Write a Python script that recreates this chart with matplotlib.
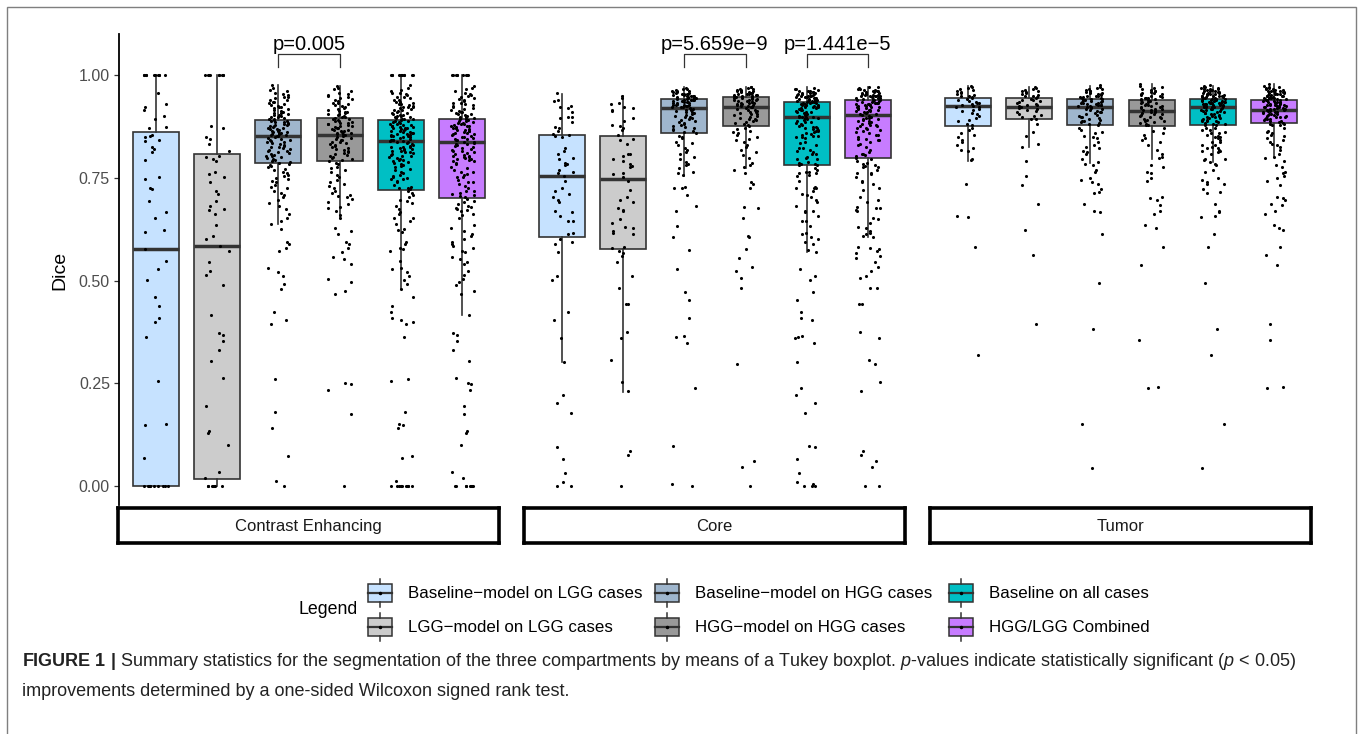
import numpy as np
import matplotlib
matplotlib.use("Agg")
import matplotlib.pyplot as plt
from matplotlib.patches import Rectangle
from matplotlib.lines import Line2D

# ---------------- data ----------------
panels = ["Contrast Enhancing", "Core", "Tumor"]
series = ["Baseline\u2212model on LGG cases", "LGG\u2212model on LGG cases",
          "Baseline\u2212model on HGG cases", "HGG\u2212model on HGG cases",
          "Baseline on all cases", "HGG/LGG Combined"]
colors = ['#C6E2FF', '#CCCCCC', '#9FB6CD', '#999999', '#00BFC4', '#C77CFF']

# box statistics (per panel, per series)
ce_q1 = [0.000, 0.016, 0.787, 0.790, 0.720, 0.701]
ce_med = [0.577, 0.583, 0.851, 0.855, 0.840, 0.837]
ce_q3 = [0.861, 0.809, 0.891, 0.896, 0.891, 0.892]
ce_lo = [0.000, 0.000, 0.638, 0.653, 0.480, 0.415]
ce_hi = [1.000, 1.000, 0.976, 0.974, 1.000, 1.000]

core_q1 = [0.606, 0.576, 0.858, 0.877, 0.782, 0.797]
core_med = [0.754, 0.746, 0.920, 0.921, 0.898, 0.902]
core_q3 = [0.853, 0.851, 0.942, 0.946, 0.935, 0.938]
core_lo = [0.301, 0.229, 0.755, 0.774, 0.569, 0.607]
core_hi = [0.955, 0.948, 0.970, 0.972, 0.970, 0.972]

tumor_q1 = [0.877, 0.892, 0.879, 0.877, 0.878, 0.883]
tumor_med = [0.924, 0.921, 0.922, 0.912, 0.923, 0.916]
tumor_q3 = [0.944, 0.945, 0.942, 0.940, 0.942, 0.940]
tumor_lo = [0.791, 0.826, 0.787, 0.796, 0.789, 0.802]
tumor_hi = [0.974, 0.971, 0.974, 0.977, 0.974, 0.977]

# individual Dice scores (read approximately from the jittered points)
ce_base_lgg = [1.0, 1.0, 1.0, 1.0, 1.0, 1.0, 1.0, 1.0, 1.0, 1.0,
               0.957, 0.929, 0.922, 0.915, 0.900, 0.893, 0.873, 0.870, 0.854, 0.852,
               0.849, 0.841, 0.839, 0.826, 0.820, 0.813, 0.793, 0.753, 0.746, 0.724,
               0.722, 0.693, 0.666, 0.651, 0.624, 0.619, 0.577, 0.547, 0.527, 0.501,
               0.461, 0.439, 0.408, 0.400, 0.362, 0.255, 0.152, 0.148, 0.068,
               0.0, 0.0, 0.0, 0.0, 0.0, 0.0, 0.0, 0.0, 0.0, 0.0]
ce_lggm_lgg = [1.0, 1.0, 1.0, 1.0, 1.0, 1.0, 1.0, 1.0, 1.0,
               0.875, 0.870, 0.848, 0.845, 0.831, 0.815, 0.804, 0.800, 0.795, 0.790,
               0.763, 0.758, 0.752, 0.739, 0.718, 0.711, 0.693, 0.681, 0.673, 0.671,
               0.662, 0.635, 0.609, 0.601, 0.583, 0.571, 0.546, 0.523, 0.513, 0.489,
               0.416, 0.373, 0.367, 0.353, 0.331, 0.305, 0.264, 0.195, 0.135, 0.129,
               0.101, 0.033, 0.019, 0.0, 0.0, 0.0, 0.0, 0.0, 0.0, 0.0]
ce_base_hgg = [0.976, 0.969, 0.963, 0.961, 0.957, 0.953, 0.951, 0.947, 0.946, 0.943,
               0.940, 0.939, 0.935, 0.934, 0.931, 0.929, 0.928, 0.925, 0.922, 0.921,
               0.919, 0.917, 0.914, 0.913, 0.911, 0.908, 0.907, 0.905, 0.903, 0.902,
               0.900, 0.899, 0.897, 0.896, 0.894, 0.893, 0.890, 0.889, 0.887, 0.886,
               0.885, 0.883, 0.882, 0.880, 0.879, 0.878, 0.876, 0.875, 0.873, 0.872,
               0.871, 0.869, 0.868, 0.866, 0.865, 0.864, 0.862, 0.861, 0.860, 0.858,
               0.857, 0.856, 0.855, 0.853, 0.852, 0.851, 0.849, 0.847, 0.845, 0.843,
               0.842, 0.840, 0.838, 0.836, 0.834, 0.833, 0.830, 0.828, 0.826, 0.825,
               0.822, 0.820, 0.818, 0.816, 0.815, 0.812, 0.810, 0.808, 0.806, 0.804,
               0.802, 0.800, 0.798, 0.795, 0.793, 0.791, 0.789, 0.787, 0.784, 0.781,
               0.779, 0.776, 0.772, 0.768, 0.765, 0.761, 0.757, 0.754, 0.750, 0.746,
               0.742, 0.739, 0.733, 0.728, 0.724, 0.718, 0.713, 0.708, 0.704, 0.696,
               0.688, 0.681, 0.673, 0.662, 0.651, 0.645, 0.638, 0.625, 0.594, 0.590,
               0.580, 0.573, 0.530, 0.521, 0.512, 0.491, 0.479, 0.423, 0.403, 0.393,
               0.260, 0.181, 0.140, 0.073, 0.011, 0.000]
ce_hggm_hgg = [0.974, 0.968, 0.965, 0.961, 0.957, 0.955, 0.951, 0.949, 0.946, 0.943,
               0.941, 0.938, 0.936, 0.933, 0.931, 0.929, 0.926, 0.924, 0.921, 0.920,
               0.917, 0.915, 0.913, 0.911, 0.909, 0.907, 0.905, 0.904, 0.902, 0.900,
               0.899, 0.897, 0.895, 0.893, 0.892, 0.890, 0.889, 0.887, 0.886, 0.884,
               0.883, 0.881, 0.880, 0.878, 0.877, 0.875, 0.874, 0.872, 0.870, 0.869,
               0.867, 0.866, 0.864, 0.863, 0.861, 0.860, 0.858, 0.857, 0.856, 0.853,
               0.851, 0.849, 0.847, 0.845, 0.843, 0.841, 0.838, 0.836, 0.834, 0.832,
               0.829, 0.827, 0.825, 0.822, 0.820, 0.818, 0.815, 0.813, 0.810, 0.808,
               0.805, 0.803, 0.800, 0.798, 0.795, 0.793, 0.791, 0.787, 0.783, 0.777,
               0.773, 0.769, 0.763, 0.757, 0.753, 0.745, 0.739, 0.734, 0.731, 0.724,
               0.718, 0.712, 0.708, 0.706, 0.704, 0.698, 0.692, 0.685, 0.680, 0.676,
               0.668, 0.660, 0.653, 0.627, 0.620, 0.612, 0.593, 0.589, 0.578, 0.569,
               0.556, 0.552, 0.541, 0.503, 0.497, 0.474, 0.468, 0.250, 0.247, 0.234,
               0.174, 0.000]

core_base_lgg = [0.956, 0.940, 0.937, 0.925, 0.923, 0.920, 0.911, 0.899, 0.899, 0.896,
                 0.886, 0.874, 0.872, 0.865, 0.856, 0.854, 0.852, 0.848, 0.823, 0.815,
                 0.807, 0.799, 0.796, 0.785, 0.783, 0.781, 0.769, 0.763, 0.761, 0.754,
                 0.742, 0.726, 0.719, 0.711, 0.704, 0.696, 0.692, 0.669, 0.666, 0.657,
                 0.645, 0.645, 0.615, 0.612, 0.601, 0.594, 0.590, 0.569, 0.512, 0.501,
                 0.423, 0.404, 0.361, 0.302, 0.221, 0.201, 0.177, 0.096, 0.065, 0.031,
                 0.009, 0.001, 0.000]
core_lggm_lgg = [0.950, 0.943, 0.931, 0.929, 0.923, 0.920, 0.915, 0.912, 0.895, 0.888,
                 0.878, 0.876, 0.870, 0.866, 0.854, 0.844, 0.842, 0.831, 0.809, 0.807,
                 0.804, 0.796, 0.791, 0.783, 0.779, 0.775, 0.761, 0.758, 0.753, 0.742,
                 0.720, 0.704, 0.695, 0.692, 0.677, 0.672, 0.669, 0.650, 0.640, 0.630,
                 0.627, 0.621, 0.616, 0.612, 0.582, 0.578, 0.572, 0.566, 0.560, 0.544,
                 0.512, 0.483, 0.444, 0.442, 0.374, 0.359, 0.307, 0.254, 0.230, 0.084,
                 0.075, 0.000]
core_base_hgg = [0.968, 0.966, 0.965, 0.963, 0.962, 0.961, 0.960, 0.959, 0.958, 0.957,
                 0.956, 0.955, 0.954, 0.953, 0.953, 0.952, 0.951, 0.950, 0.949, 0.949,
                 0.948, 0.947, 0.946, 0.946, 0.945, 0.944, 0.944, 0.942, 0.941, 0.940,
                 0.940, 0.939, 0.938, 0.937, 0.936, 0.935, 0.935, 0.934, 0.933, 0.932,
                 0.931, 0.930, 0.929, 0.928, 0.928, 0.927, 0.926, 0.925, 0.924, 0.923,
                 0.922, 0.921, 0.920, 0.918, 0.916, 0.915, 0.913, 0.911, 0.909, 0.907,
                 0.905, 0.903, 0.901, 0.899, 0.897, 0.895, 0.893, 0.891, 0.889, 0.886,
                 0.884, 0.882, 0.879, 0.877, 0.874, 0.872, 0.869, 0.866, 0.863, 0.861,
                 0.859, 0.852, 0.850, 0.846, 0.838, 0.834, 0.830, 0.822, 0.818, 0.812,
                 0.807, 0.801, 0.796, 0.789, 0.783, 0.781, 0.773, 0.765, 0.761, 0.757,
                 0.727, 0.726, 0.724, 0.708, 0.682, 0.669, 0.632, 0.607, 0.575, 0.528,
                 0.473, 0.453, 0.410, 0.366, 0.362, 0.349, 0.238, 0.097, 0.005, 0.000]
core_hggm_hgg = [0.972, 0.970, 0.968, 0.967, 0.966, 0.964, 0.963, 0.962, 0.961, 0.960,
                 0.959, 0.958, 0.957, 0.956, 0.955, 0.954, 0.953, 0.952, 0.952, 0.951,
                 0.950, 0.949, 0.948, 0.948, 0.947, 0.945, 0.944, 0.943, 0.942, 0.941,
                 0.940, 0.939, 0.938, 0.937, 0.936, 0.935, 0.934, 0.933, 0.932, 0.931,
                 0.930, 0.929, 0.928, 0.927, 0.926, 0.925, 0.924, 0.923, 0.921, 0.919,
                 0.918, 0.916, 0.914, 0.913, 0.911, 0.909, 0.907, 0.906, 0.904, 0.902,
                 0.900, 0.898, 0.896, 0.894, 0.892, 0.890, 0.888, 0.886, 0.883, 0.881,
                 0.879, 0.877, 0.872, 0.869, 0.865, 0.862, 0.858, 0.854, 0.848, 0.844,
                 0.842, 0.836, 0.830, 0.826, 0.818, 0.812, 0.805, 0.797, 0.785, 0.781,
                 0.775, 0.768, 0.761, 0.739, 0.735, 0.726, 0.680, 0.676, 0.651, 0.609,
                 0.607, 0.576, 0.554, 0.534, 0.523, 0.505, 0.481, 0.298, 0.062, 0.046,
                 0.000]

tumor_base_lgg = [0.974, 0.971, 0.968, 0.966, 0.963, 0.961, 0.958, 0.956, 0.954, 0.952,
                  0.950, 0.948, 0.946, 0.944, 0.941, 0.939, 0.937, 0.935, 0.933, 0.931,
                  0.929, 0.927, 0.925, 0.923, 0.921, 0.918, 0.915, 0.912, 0.908, 0.904,
                  0.900, 0.896, 0.891, 0.887, 0.882, 0.878, 0.870, 0.866, 0.858, 0.854,
                  0.850, 0.842, 0.836, 0.830, 0.822, 0.818, 0.815, 0.795, 0.793, 0.735,
                  0.658, 0.654, 0.582, 0.319]
tumor_lggm_lgg = [0.971, 0.969, 0.967, 0.964, 0.962, 0.960, 0.958, 0.956, 0.954, 0.952,
                  0.950, 0.948, 0.946, 0.944, 0.942, 0.940, 0.938, 0.936, 0.934, 0.932,
                  0.930, 0.928, 0.926, 0.924, 0.922, 0.920, 0.918, 0.915, 0.912, 0.909,
                  0.906, 0.903, 0.900, 0.897, 0.894, 0.892, 0.882, 0.862, 0.852, 0.832,
                  0.826, 0.791, 0.755, 0.732, 0.687, 0.622, 0.562, 0.393]
tumor_base_hgg = [0.976, 0.972, 0.969, 0.967, 0.965, 0.963, 0.962, 0.960, 0.958, 0.957,
                  0.956, 0.954, 0.953, 0.952, 0.950, 0.949, 0.948, 0.947, 0.946, 0.945,
                  0.944, 0.942, 0.941, 0.940, 0.939, 0.938, 0.937, 0.936, 0.935, 0.934,
                  0.933, 0.932, 0.931, 0.930, 0.929, 0.928, 0.927, 0.926, 0.925, 0.924,
                  0.923, 0.922, 0.920, 0.918, 0.917, 0.915, 0.913, 0.911, 0.909, 0.907,
                  0.905, 0.903, 0.901, 0.899, 0.897, 0.895, 0.893, 0.891, 0.889, 0.887,
                  0.885, 0.883, 0.881, 0.879, 0.870, 0.866, 0.862, 0.858, 0.852, 0.850,
                  0.846, 0.838, 0.830, 0.826, 0.822, 0.815, 0.812, 0.807, 0.795, 0.789,
                  0.783, 0.780, 0.770, 0.765, 0.749, 0.745, 0.740, 0.736, 0.723, 0.716,
                  0.712, 0.685, 0.669, 0.666, 0.612, 0.495, 0.381, 0.152, 0.045]
tumor_hggm_hgg = [0.977, 0.973, 0.970, 0.968, 0.966, 0.964, 0.962, 0.961, 0.959, 0.957,
                  0.956, 0.954, 0.953, 0.951, 0.950, 0.948, 0.947, 0.945, 0.944, 0.943,
                  0.942, 0.941, 0.939, 0.938, 0.936, 0.935, 0.934, 0.932, 0.931, 0.929,
                  0.928, 0.927, 0.925, 0.924, 0.922, 0.921, 0.920, 0.918, 0.917, 0.915,
                  0.914, 0.913, 0.911, 0.909, 0.908, 0.906, 0.904, 0.902, 0.900, 0.899,
                  0.897, 0.895, 0.893, 0.891, 0.889, 0.887, 0.885, 0.883, 0.881, 0.879,
                  0.878, 0.870, 0.864, 0.858, 0.854, 0.846, 0.842, 0.836, 0.830, 0.818,
                  0.807, 0.801, 0.797, 0.781, 0.777, 0.765, 0.761, 0.750, 0.742, 0.704,
                  0.700, 0.696, 0.684, 0.668, 0.661, 0.635, 0.627, 0.582, 0.538, 0.355,
                  0.242, 0.238]

pval_labels = ["p=0.005", "p=5.659e\u22129", "p=1.441e\u22125"]
pval_panel = [0, 1, 1]
pval_left = [2, 2, 4]
pval_right = [3, 3, 5]

caption_1 = (r"$\mathbf{FIGURE\ 1\ |}$ Summary statistics for the segmentation of the three "
             r"compartments by means of a Tukey boxplot. $\mathit{p}$-values indicate "
             r"statistically significant ($\mathit{p}$ < 0.05)")
caption_2 = "improvements determined by a one-sided Wilcoxon signed rank test."

# ---------------- assemble ----------------
panel_points = [
    [ce_base_lgg, ce_lggm_lgg, ce_base_hgg, ce_hggm_hgg,
     ce_base_lgg + ce_base_hgg, ce_lggm_lgg + ce_hggm_hgg],
    [core_base_lgg, core_lggm_lgg, core_base_hgg, core_hggm_hgg,
     core_base_lgg + core_base_hgg, core_lggm_lgg + core_hggm_hgg],
    [tumor_base_lgg, tumor_lggm_lgg, tumor_base_hgg, tumor_hggm_hgg,
     tumor_base_lgg + tumor_base_hgg, tumor_lggm_lgg + tumor_hggm_hgg],
]
panel_stats = [
    (ce_q1, ce_med, ce_q3, ce_lo, ce_hi),
    (core_q1, core_med, core_q3, core_lo, core_hi),
    (tumor_q1, tumor_med, tumor_q3, tumor_lo, tumor_hi),
]

plt.rcParams['font.family'] = ['Liberation Sans', 'DejaVu Sans']
plt.rcParams['mathtext.fontset'] = 'custom'
plt.rcParams['mathtext.rm'] = 'Liberation Sans'
plt.rcParams['mathtext.it'] = 'Liberation Sans:italic'
plt.rcParams['mathtext.bf'] = 'Liberation Sans:bold'

W, H = 1358, 734
fig = plt.figure(figsize=(W / 100, H / 100), dpi=100)
fig.patch.set_facecolor('white')


def fx(px):
    return px / W


def fy(py):
    return 1 - py / H


panel_left = [119, 525, 931]
panel_w = 380
ax_top, ax_bot = 34, 505
edge = '#333333'


def jitter(n, off):
    k = np.arange(n)
    u = (k * 0.6180339887 + k * k * 0.41421356 + off) % 1.0
    return (u - 0.5) * 0.4


for p in range(3):
    ax = fig.add_axes([fx(panel_left[p]), fy(ax_bot), fx(panel_w), (ax_bot - ax_top) / H])
    ax.set_xlim(-0.6, 5.6)
    ax.set_ylim(-0.0462, 1.0998)
    ax.patch.set_alpha(0)
    q1, med, q3, lo, hi = panel_stats[p]
    stats = [dict(q1=q1[i], med=med[i], q3=q3[i], whislo=lo[i], whishi=hi[i], fliers=[])
             for i in range(6)]
    bp = ax.bxp(stats, positions=list(range(6)), widths=0.75, patch_artist=True,
                showfliers=False, showcaps=False, manage_ticks=False,
                boxprops=dict(edgecolor=edge, linewidth=1.2),
                medianprops=dict(color=edge, linewidth=2.5, solid_capstyle='butt'),
                whiskerprops=dict(color=edge, linewidth=1.2))
    for patch, c in zip(bp['boxes'], colors):
        patch.set_facecolor(c)
    for i, vals in enumerate(panel_points[p]):
        v = np.asarray(vals, dtype=float)
        ax.scatter(i + jitter(len(v), 0.13 * i + 0.31 * p), v, s=5.0, color='black',
                   linewidths=0, zorder=4)
    for s in ['top', 'right', 'bottom']:
        ax.spines[s].set_visible(False)
    ax.set_xticks([])
    if p == 0:
        ax.spines['left'].set_linewidth(1.3)
        ax.spines['left'].set_color('black')
        ax.set_yticks([0, 0.25, 0.5, 0.75, 1.0])
        ax.set_yticklabels(['0.00', '0.25', '0.50', '0.75', '1.00'])
        ax.tick_params(axis='y', labelsize=11.5, labelcolor='#4D4D4D', color='#333333',
                       length=3.5, width=0.9, pad=3)
    else:
        ax.spines['left'].set_visible(False)
        ax.set_yticks([])
    # p-value brackets
    for lab, pp, a, b in zip(pval_labels, pval_panel, pval_left, pval_right):
        if pp != p:
            continue
        ax.plot([a, a, b, b], [1.019, 1.050, 1.050, 1.019], color='#333333', lw=0.9,
                clip_on=False, zorder=5)
        ax.text((a + b) / 2, 1.062, lab, ha='center', va='baseline', fontsize=14.5,
                color='black', clip_on=False)
    # strip
    sax = fig.add_axes([fx(panel_left[p] - 1), fy(543), fx(panel_w + 1), 35 / H])
    sax.set_xticks([])
    sax.set_yticks([])
    for s in sax.spines.values():
        s.set_linewidth(2.6)
        s.set_color('black')
    sax.text(0.5, 0.47, panels[p], ha='center', va='center', fontsize=12,
             color='#1A1A1A', transform=sax.transAxes)

fig.text(fx(60), fy(270), 'Dice', rotation=90, ha='center', va='center', fontsize=14)

# legend (ggplot style, title at left)
fig.text(fx(298), fy(610), 'Legend', ha='left', va='center', fontsize=12.8)
key_cx = [380, 667, 961]
key_cy = [593, 627]
for i, (lab, c) in enumerate(zip(series, colors)):
    cx = key_cx[i // 2]
    cy = key_cy[i % 2]
    bw, bh = 24, 18
    fig.add_artist(Rectangle((fx(cx - bw / 2), fy(cy + bh / 2)), fx(bw), bh / H,
                             facecolor=c, edgecolor=edge, lw=1.1, transform=fig.transFigure))
    fig.add_artist(Line2D([fx(cx - bw / 2), fx(cx + bw / 2)], [fy(cy), fy(cy)],
                          color=edge, lw=1.6, transform=fig.transFigure))
    fig.add_artist(Line2D([fx(cx), fx(cx)], [fy(cy - bh / 2), fy(cy - bh / 2 - 5)],
                          color=edge, lw=1.1, transform=fig.transFigure))
    fig.add_artist(Line2D([fx(cx), fx(cx)], [fy(cy + bh / 2), fy(cy + bh / 2 + 5)],
                          color=edge, lw=1.1, transform=fig.transFigure))
    fig.add_artist(Line2D([fx(cx)], [fy(cy)], marker='o', markersize=1.5, color='black',
                          lw=0, transform=fig.transFigure))
    fig.text(fx(cx + 28), fy(cy), lab, ha='left', va='center', fontsize=12.2)

# caption
fig.text(fx(22), fy(662), caption_1, ha='left', va='center', fontsize=13, color='#222222')
fig.text(fx(22), fy(692), caption_2, ha='left', va='center', fontsize=13, color='#222222')

# outer frame
fig.add_artist(Rectangle((fx(7), -0.05), fx(1349), fy(7) + 0.05, fill=False,
                         edgecolor='#7F7F7F', lw=1.0, transform=fig.transFigure))

fig.savefig('out.png', dpi=100)
